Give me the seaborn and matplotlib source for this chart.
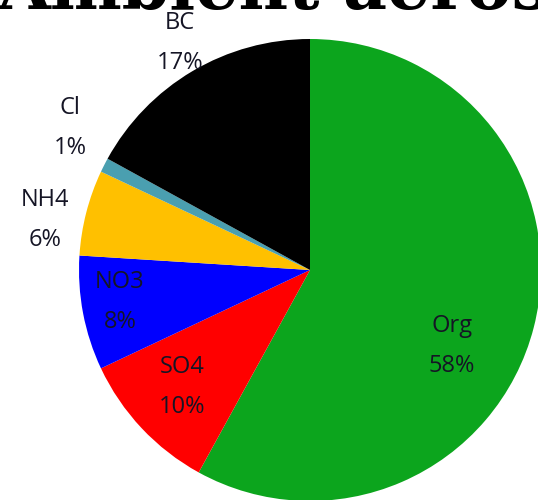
import matplotlib
matplotlib.use("Agg")
import matplotlib.pyplot as plt
import seaborn as sns

# Data
components = ['Org', 'SO4', 'NO3', 'NH4', 'Cl', 'BC']
shares = [58, 10, 8, 6, 1, 17]
colors = ['#0ca51d', '#ff0000', '#0000ff', '#ffc000', '#4a9fb0', '#000000']
title = 'Ambient aerosol'

# Label positions in pixel coords (layout only)
label_xy = [(452, 346), (182, 387), (120, 302), (45, 220), (70, 128), (180, 43)]

sns.set_theme(style='white')
plt.rcParams['font.family'] = ['Open Sans', 'DejaVu Sans']

W, H = 538, 500
fig = plt.figure(figsize=(W / 100, H / 100), dpi=100)
ax = fig.add_axes([0, 0, 1, 1])

ax.pie(shares, colors=colors, startangle=90, counterclock=False,
       center=(310, H - 270), radius=231,
       wedgeprops=dict(linewidth=0), frame=True)
ax.set_xlim(0, W)
ax.set_ylim(0, H)
ax.set_aspect('equal')
ax.axis('off')

for name, val, (x, y) in zip(components, shares, label_xy):
    ax.text(x, H - y, f'{name}\n{val}%', ha='center', va='center',
            fontsize=17, color='#151525', linespacing=1.9)

fig.text(-0.005, 1 - 9 / H, title, ha='left', va='baseline',
         fontsize=49, fontweight='bold', family='DejaVu Serif', color='black')

fig.savefig('out.png', dpi=100)
